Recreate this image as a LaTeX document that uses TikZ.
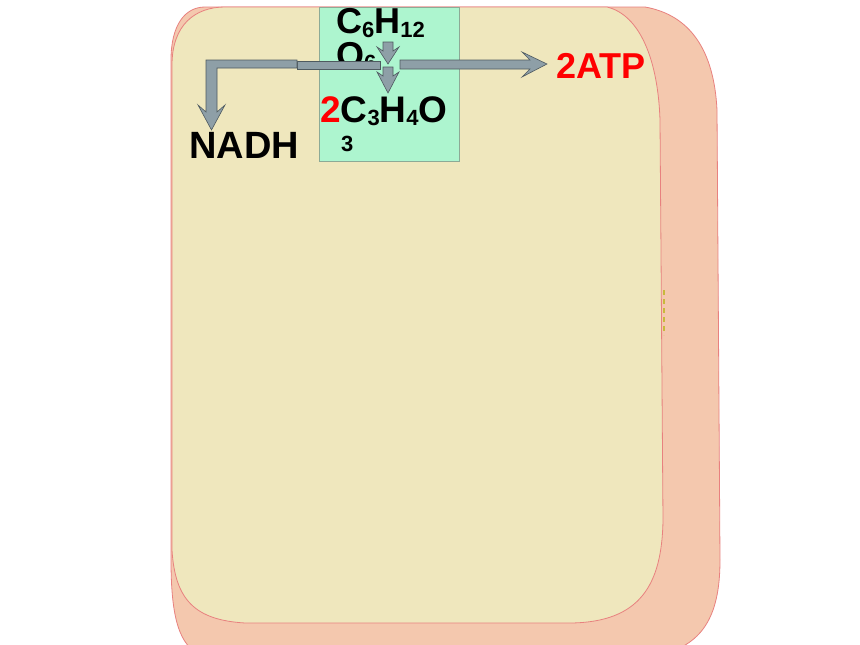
\documentclass[tikz,border=0pt]{standalone}
\usepackage{fontspec}
\setmainfont{Liberation Sans}
\definecolor{cream}{HTML}{EFE7BD}
\definecolor{salmon}{HTML}{F4C8AE}
\definecolor{rimred}{HTML}{E8817F}
\definecolor{mint}{HTML}{ADF5CF}
\definecolor{arrowgray}{HTML}{8E9FA7}
\definecolor{arrowedge}{HTML}{4E5A60}
\definecolor{atpred}{HTML}{FF0000}
\newcommand\subn[2][22]{\raisebox{-0.1em}{\fontsize{#1}{#1}\selectfont #2}}
\tikzset{
  cell/.style={draw=rimred, line width=0.8pt},
  blockarrow/.style={fill=arrowgray, draw=arrowedge, line width=0.6pt, line join=miter},
  formula/.style={inner sep=0pt, anchor=base west, font=\fontsize{36}{38}\selectfont\bfseries},
}
\begin{document}
\begin{tikzpicture}[x=1pt,y=-1pt]
\useasboundingbox (0,0) rectangle (860,645);
\fill[white] (0,0) rectangle (860,645);
\begin{scope}
\clip (0,0) rectangle (860,645);
% outer salmon membrane
\path[cell, fill=salmon] (205,7) -- (645,7)
  .. controls (690,15) and (714,50) .. (717,110)
  -- (720,560)
  .. controls (720,620) and (700,645) .. (660,655)
  -- (200,655)
  .. controls (180,645) and (171,620) .. (171,560)
  -- (171,60) .. controls (171,25) and (185,7) .. (205,7) -- cycle;
% inner cream cytoplasm
\path[cell, fill=cream] (225,7) -- (607,7)
  .. controls (640,15) and (658,60) .. (660,120)
  -- (663,520)
  .. controls (662,585) and (640,622) .. (571,623)
  -- (245,623)
  .. controls (195,620) and (175,600) .. (172,550)
  -- (172,65) .. controls (172,25) and (195,7) .. (225,7) -- cycle;
\end{scope}
% small yellow marks on membrane
\draw[draw={rgb,255:red,200;green,185;blue,60}, line width=2pt, dash pattern=on 5pt off 4pt] (664,290) -- (664,335);
% green box
\path[fill=mint, draw={rgb,255:red,140;green,170;blue,150}, line width=0.5pt] (319,7) rectangle (459,161);
% glucose text (second line hidden below the bar)
\node[formula] (glc) at (336,34) {C\subn{6}H\subn{12}};
\begin{scope}
\clip (319,7) rectangle (459,60);
\node[formula] (glcb) at (336,67) {O\subn{6}};
\end{scope}
% pyruvate
\node[formula, font=\fontsize{37}{38}\selectfont\bfseries] (pyr) at (320,122) {\textcolor{atpred}{2}C\subn{3}H\subn{4}O};
\node[inner sep=0pt, anchor=base west, font=\fontsize{22}{22}\selectfont\bfseries] (pyrb) at (341,151) {3};
% NADH and ATP
\node[formula, font=\fontsize{38}{40}\selectfont\bfseries] (nadh) at (189,158) {NADH};
\node[formula, text=atpred] (atp) at (556,78) {2ATP};
% bar to NADH
\path[blockarrow] (297,61) rectangle (380,69);
\path[blockarrow] (206,60) -- (297,60) -- (297,68) -- (217,68) -- (217,112)
  -- (225,105) -- (211.5,130) -- (198,105) -- (206,112) -- cycle;
% bar to ATP
\path[blockarrow] (400,60) -- (530,60) -- (522,52) -- (547,64) -- (522,77) -- (530,69) -- (400,69) -- cycle;
% small down arrows
\path[blockarrow] (383,42) -- (393,42) -- (393,51) -- (399,47) -- (388,64) -- (377,47) -- (383,51) -- cycle;
\path[blockarrow] (383,67) -- (393,67) -- (393,76) -- (399,72) -- (388,93) -- (377,72) -- (383,76) -- cycle;
\end{tikzpicture}
\end{document}
